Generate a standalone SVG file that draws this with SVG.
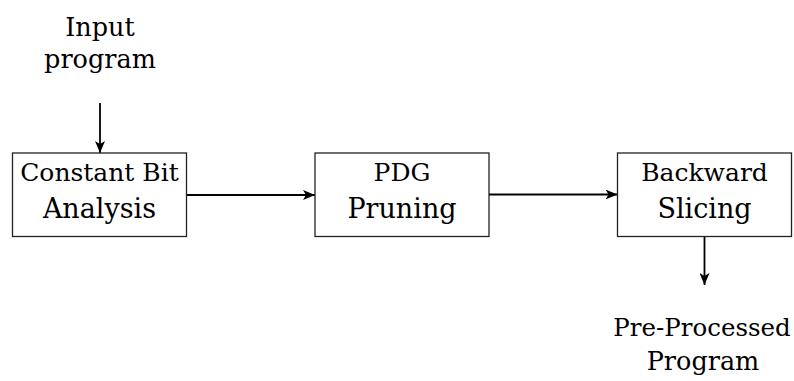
<svg xmlns="http://www.w3.org/2000/svg" width="794" height="381" viewBox="0 0 794 381">
  <style>
    text { font-family: "DejaVu Serif", "Liberation Serif", serif; font-size: 25.5px; fill: #000; text-anchor: middle; }
    .l1 { font-size: 25px; }
    .l2 { font-size: 27px; }
    .out { font-size: 24.5px; }
    .box { fill: #fff; stroke: #222; stroke-width: 1.3; }
    .edge { fill: none; stroke: #000; stroke-width: 1.8; }
  </style>
  <defs>
    <marker id="arrow" viewBox="0 0 12 10" refX="12" refY="5" markerWidth="12" markerHeight="10" markerUnits="userSpaceOnUse" orient="auto">
      <path d="M0,0 L12,5 L0,10 L3,5 Z" fill="#000"/>
    </marker>
  </defs>
  <rect width="794" height="381" fill="#fff"/>

  <g id="connectors">
    <line class="edge" x1="100" y1="103" x2="100" y2="153" marker-end="url(#arrow)"/>
    <line class="edge" x1="186.5" y1="195" x2="315" y2="195" marker-end="url(#arrow)"/>
    <line class="edge" x1="489" y1="194.5" x2="617.5" y2="194.5" marker-end="url(#arrow)"/>
    <line class="edge" x1="704.5" y1="236.5" x2="704.5" y2="285" marker-end="url(#arrow)"/>
  </g>

  <g id="input">
    <text x="100" y="36">Input</text>
    <text x="100" y="68">program</text>
  </g>

  <g id="constant-bit-analysis">
    <rect class="box" x="12.5" y="153" width="174" height="83.5"/>
    <text class="l1" x="99.5" y="181">Constant Bit</text>
    <text class="l2" x="99.5" y="218">Analysis</text>
  </g>

  <g id="pdg-pruning">
    <rect class="box" x="315" y="153" width="174" height="83.5"/>
    <text class="l1" x="402" y="181">PDG</text>
    <text class="l2" x="402" y="218">Pruning</text>
  </g>

  <g id="backward-slicing">
    <rect class="box" x="617.5" y="153" width="174" height="83.5"/>
    <text class="l1" x="704.5" y="181">Backward</text>
    <text class="l2" x="704.5" y="218">Slicing</text>
  </g>

  <g id="output">
    <text class="out" x="702" y="336">Pre-Processed</text>
    <text x="703" y="370">Program</text>
  </g>
</svg>
